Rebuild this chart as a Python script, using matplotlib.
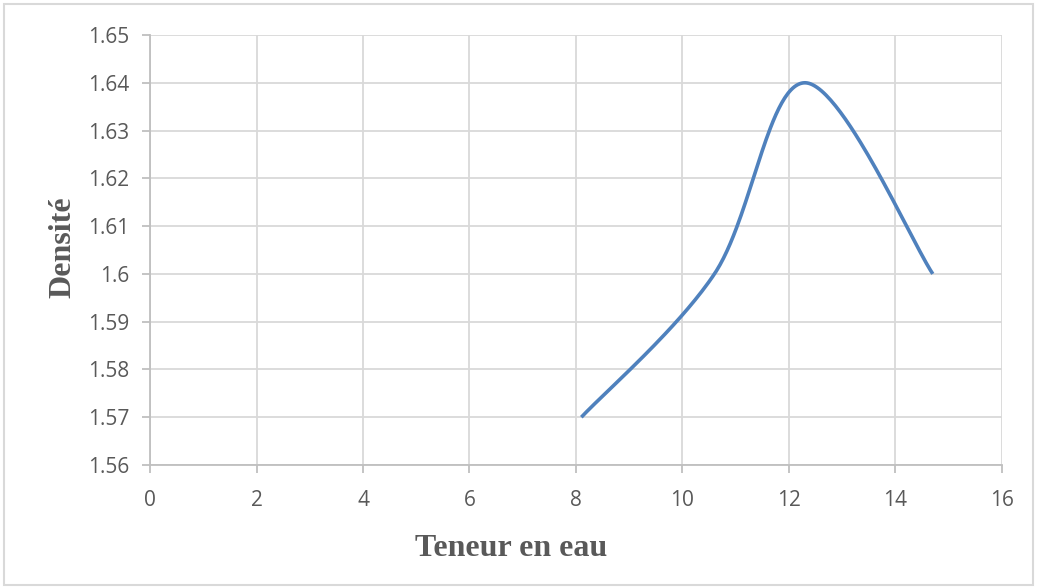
import matplotlib.pyplot as plt
import numpy as np

# data points (water content vs density)
teneur = [8.1, 10.6, 12.3, 14.7]
densite = [1.57, 1.60, 1.64, 1.60]
x_ticks = [0, 2, 4, 6, 8, 10, 12, 14, 16]
y_ticks = [1.56, 1.57, 1.58, 1.59, 1.60, 1.61, 1.62, 1.63, 1.64, 1.65]
y_labels = ['1.56', '1.57', '1.58', '1.59', '1.6', '1.61', '1.62', '1.63', '1.64', '1.65']


# Excel-style smoothed line (Catmull-Rom through the points)
def smooth(xs, ys, n=60):
    p = np.column_stack([xs, ys])
    p = np.vstack([p[0], p, p[-1]])
    out = []
    for i in range(1, len(p) - 2):
        p0, p1, p2, p3 = p[i - 1], p[i], p[i + 1], p[i + 2]
        c1 = p1 + (p2 - p0) / 6
        c2 = p2 - (p3 - p1) / 6
        t = np.linspace(0, 1, n)[:, None]
        seg = (1 - t) ** 3 * p1 + 3 * (1 - t) ** 2 * t * c1 + 3 * (1 - t) * t ** 2 * c2 + t ** 3 * p2
        out.append(seg)
    out = np.vstack(out)
    return out[:, 0], out[:, 1]


fig = plt.figure(figsize=(10.37, 5.87), dpi=100)
ax = fig.add_axes([150 / 1037, 1 - 465 / 587, 852 / 1037, 430 / 587])

sx, sy = smooth(teneur, densite)
ax.plot(sx, sy, color='#4f81bd', linewidth=2.6, solid_capstyle='butt', zorder=3)

ax.set_xlim(0, 16)
ax.set_ylim(1.56, 1.65)
ax.set_xticks(x_ticks)
ax.set_yticks(y_ticks)
ax.set_yticklabels(y_labels)
ax.grid(True, color='#d9d9d9', linewidth=1.3)
ax.set_axisbelow(True)
for s in ['top', 'right']:
    ax.spines[s].set_visible(False)
for s in ['left', 'bottom']:
    ax.spines[s].set_color('#bfbfbf')
    ax.spines[s].set_linewidth(1.3)
ax.tick_params(colors='#bfbfbf', length=6, width=1.3, labelcolor='#595959', labelsize=15)
ax.tick_params(axis='x', pad=12)
ax.tick_params(axis='y', pad=9)
for lab in ax.get_xticklabels() + ax.get_yticklabels():
    lab.set_family('Open Sans')

ax.set_xlabel('Teneur en eau', family='Liberation Serif', fontweight='bold', fontsize=23, color='#595959')
ax.set_ylabel('Densité', family='Liberation Serif', fontweight='bold', fontsize=23, color='#595959')
ax.xaxis.set_label_coords((511 - 150) / 852, -(548 - 465) / 430, transform=ax.transAxes)
ax.xaxis.label.set_va('center')
ax.yaxis.set_label_coords(-(150 - 63) / 852, (465 - 247) / 430, transform=ax.transAxes)
ax.yaxis.label.set_va('center')

# light border around the chart area
fig.add_artist(plt.Rectangle((0.004, 0.004), 0.992, 0.99, transform=fig.transFigure, fill=False,
                             edgecolor='#d9d9d9', linewidth=1.5))

fig.savefig('out.png', dpi=100)
